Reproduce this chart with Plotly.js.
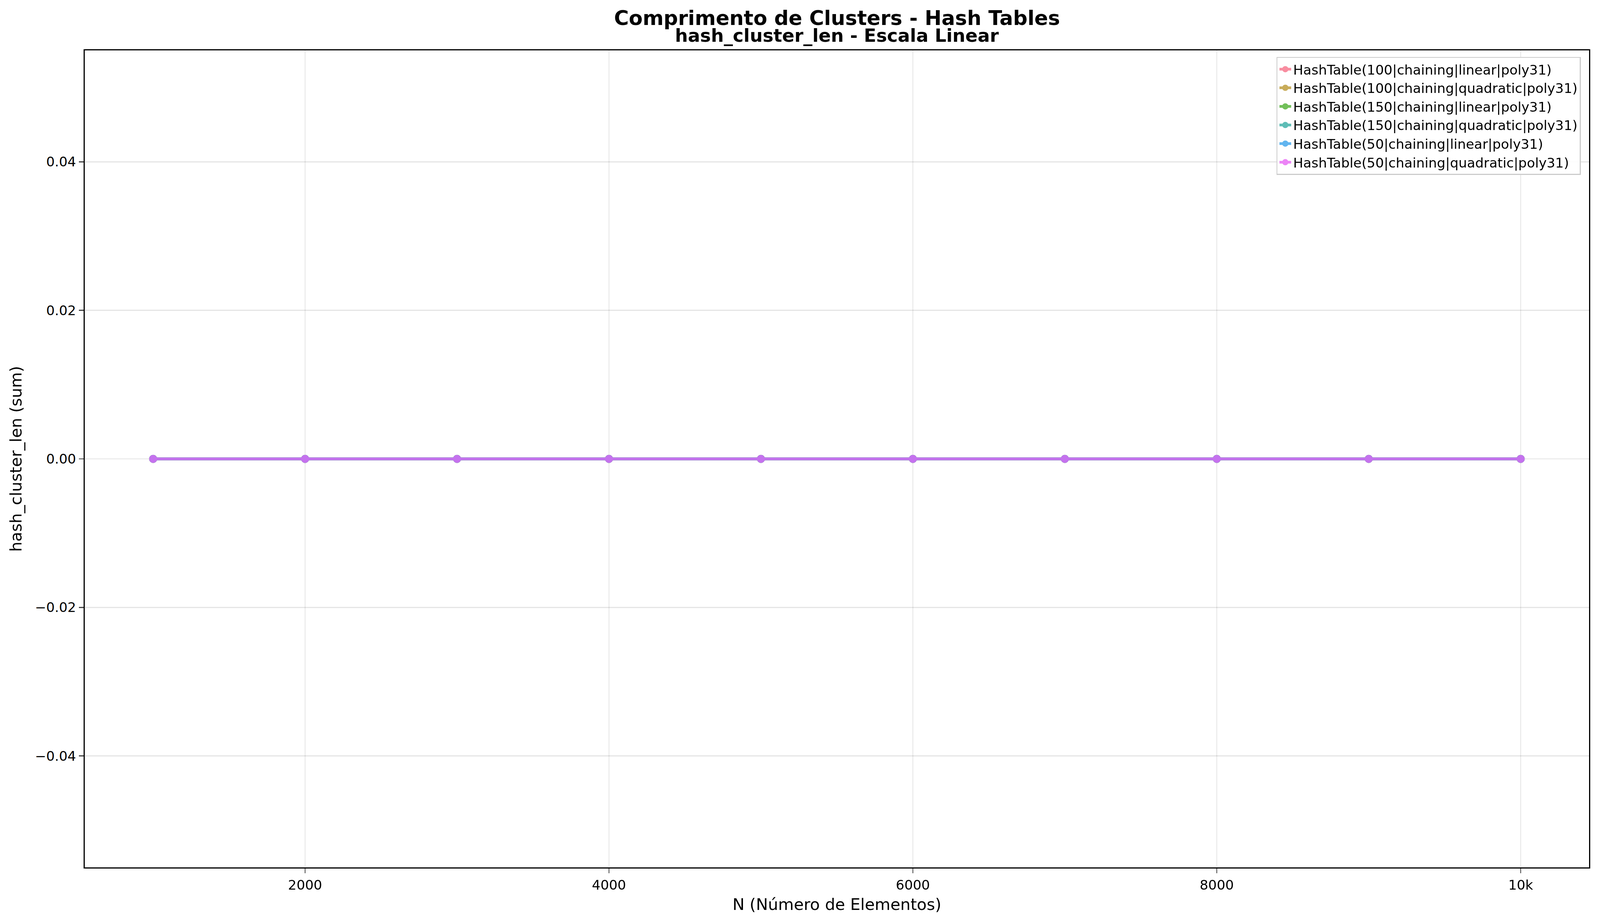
<!DOCTYPE html>
<html><head><meta charset="utf-8">
<script src="https://cdn.plot.ly/plotly-3.0.1.min.js"></script>
<style>html,body{margin:0;padding:0;background:#fff;overflow:hidden}</style>
</head><body><div id="c"></div>
<script>
const N = [1000,2000,3000,4000,5000,6000,7000,8000,9000,10000];
const seriesNames = [
 "HashTable(100|chaining|linear|poly31)",
 "HashTable(100|chaining|quadratic|poly31)",
 "HashTable(150|chaining|linear|poly31)",
 "HashTable(150|chaining|quadratic|poly31)",
 "HashTable(50|chaining|linear|poly31)",
 "HashTable(50|chaining|quadratic|poly31)"
];
const s100lin = [0,0,0,0,0,0,0,0,0,0];
const s100quad = [0,0,0,0,0,0,0,0,0,0];
const s150lin = [0,0,0,0,0,0,0,0,0,0];
const s150quad = [0,0,0,0,0,0,0,0,0,0];
const s50lin = [0,0,0,0,0,0,0,0,0,0];
const s50quad = [0,0,0,0,0,0,0,0,0,0];
const values = [s100lin,s100quad,s150lin,s150quad,s50lin,s50quad];
const colors = ["#f77189","#bb9832","#50b131","#36ada4","#3ba3ec","#e866f4"];
const W = window.innerWidth || 4771, H = window.innerHeight || 2366;
const s = Math.min(W/4771, H/2366);
const p = v => v*s;
document.getElementById("c").style.width = W+"px";
document.getElementById("c").style.height = H+"px";
const traces = values.map((v,i)=>({
  x:N, y:v, name:seriesNames[i], type:"scatter", mode:"lines+markers",
  opacity:0.8, line:{color:colors[i],width:p(8)}, marker:{color:colors[i],size:p(24)}
}));
const F = "DejaVu Sans";
const layout = {
  width:W, height:H, paper_bgcolor:"#fff", plot_bgcolor:"#fff",
  margin:{l:p(253),r:p(33),t:p(150),b:p(169)},
  font:{family:F,size:p(42),color:"#000"},
  annotations:[
    {text:"<b>Comprimento de Clusters - Hash Tables</b>",xref:"paper",yref:"paper",x:0.5,y:1,yshift:p(97),showarrow:false,font:{size:p(60),family:F},xanchor:"center",yanchor:"middle"},
    {text:"<b>hash_cluster_len - Escala Linear</b>",xref:"paper",yref:"paper",x:0.5,y:1,yshift:p(44),showarrow:false,font:{size:p(54),family:F},xanchor:"center",yanchor:"middle"}
  ],
  xaxis:{range:[550,10450],tickvals:[2000,4000,6000,8000,10000],ticks:"outside",ticklen:p(15),tickwidth:p(3),
    showline:true,mirror:true,linecolor:"#000",linewidth:p(3),showgrid:true,gridcolor:"rgba(0,0,0,0.1)",gridwidth:p(3),zeroline:false,
    title:{text:"N (Número de Elementos)",font:{size:p(48),family:F},standoff:p(20)},tickfont:{size:p(40)}},
  yaxis:{range:[-0.055,0.055],tickvals:[-0.04,-0.02,0,0.02,0.04],tickformat:".2f",ticks:"outside",ticklen:p(15),tickwidth:p(3),
    showline:true,mirror:true,linecolor:"#000",linewidth:p(3),showgrid:true,gridcolor:"rgba(0,0,0,0.1)",gridwidth:p(3),zeroline:false,
    title:{text:"hash_cluster_len (sum)",font:{size:p(48),family:F},standoff:p(25)},tickfont:{size:p(40)}},
  legend:{x:0.9945,y:0.992,xanchor:"right",yanchor:"top",bgcolor:"rgba(255,255,255,0.9)",bordercolor:"#ccc",borderwidth:p(3),
    font:{size:p(40),family:F},tracegroupgap:0},
  showlegend:true
};
Plotly.newPlot("c",traces,layout,{staticPlot:true});
</script></body></html>
